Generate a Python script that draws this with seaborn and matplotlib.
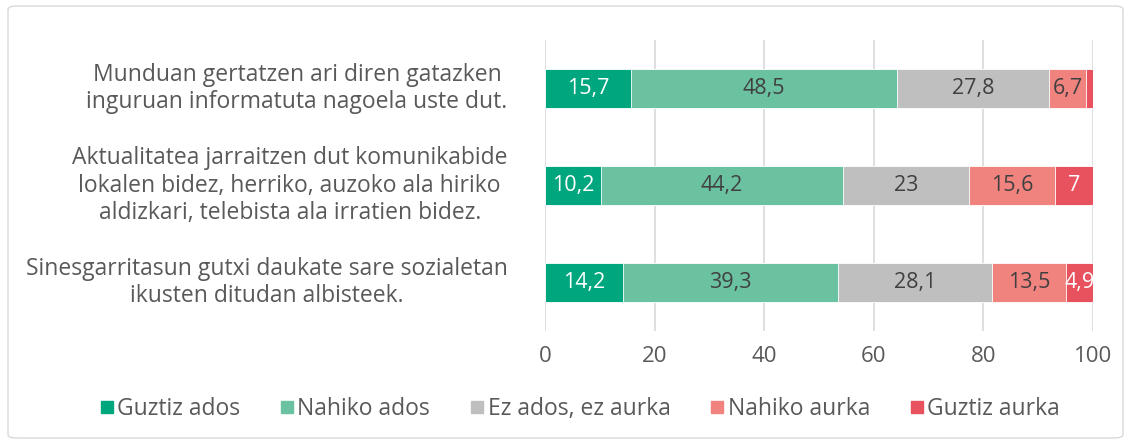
import numpy as np
import pandas as pd
import seaborn as sns
import matplotlib
matplotlib.use("Agg")
import matplotlib.pyplot as plt
from matplotlib.patches import FancyBboxPatch
from matplotlib.lines import Line2D

categories = [
    "Munduan gertatzen ari diren gatazken\ninguruan informatuta nagoela uste dut.",
    "Aktualitatea jarraitzen dut komunikabide\nlokalen bidez, herriko, auzoko ala hiriko\naldizkari, telebista ala irratien bidez.",
    "Sinesgarritasun gutxi daukate sare sozialetan\nikusten ditudan albisteek.",
]
series_names = ["Guztiz ados", "Nahiko ados", "Ez ados, ez aurka", "Nahiko aurka", "Guztiz aurka"]
guztiz_ados = [15.7, 10.2, 14.2]
nahiko_ados = [48.5, 44.2, 39.3]
ez_ados_ez_aurka = [27.8, 23.0, 28.1]
nahiko_aurka = [6.7, 15.6, 13.5]
guztiz_aurka = [1.3, 7.0, 4.9]
show_label = [[True, True, True], [True, True, True], [True, True, True], [True, True, True], [False, True, True]]
xticks = [0, 20, 40, 60, 80, 100]

colors = ["#00A67E", "#6BC2A1", "#BFBFBF", "#F1837F", "#E8525F"]
label_colors = ["white", "#404040", "#404040", "#404040", "white"]

sns.set_theme(style="white")
plt.rcParams["font.family"] = ["Open Sans", "DejaVu Sans"]

fig = plt.figure(figsize=(11.31, 4.46), dpi=100)
ax = fig.add_axes([545/1131, 1-331/446, (1093-545)/1131, (331-40)/446])

vals = [guztiz_ados, nahiko_ados, ez_ados_ez_aurka, nahiko_aurka, guztiz_aurka]
arr = np.array(vals)
cum = np.cumsum(arr, axis=0)

# draw cumulative bars from largest to smallest
for i in range(len(series_names) - 1, -1, -1):
    df = pd.DataFrame({"cat": categories, "val": cum[i]})
    sns.barplot(data=df, x="val", y="cat", orient="h", color=colors[i],
                width=0.4, ax=ax, linewidth=0.6, edgecolor="white", saturation=1, zorder=3)

# segment labels
for i in range(len(series_names)):
    for j in range(len(categories)):
        if not show_label[i][j]:
            continue
        start = cum[i][j] - arr[i][j]
        center = start + arr[i][j] / 2
        txt = f"{arr[i][j]:g}".replace(".", ",")
        ax.text(center, j, txt, ha="center", va="center", fontsize=15.5,
                color=label_colors[i], zorder=5)

ax.set_xlim(0, 100)
ax.set_ylim(2.5, -0.5)
ax.set_xticks(xticks)
ax.set_xticklabels([str(t) for t in xticks], fontsize=16, color="#595959")
ax.set_yticks(range(len(categories)))
ax.set_yticklabels(categories, fontsize=16.5, color="#595959",
                   multialignment="center", linespacing=1.22)
for lbl in ax.get_yticklabels():
    lbl.set_va("center")
ax.tick_params(axis="y", length=0, pad=27)
ax.tick_params(axis="x", length=0, pad=11)
ax.set_xlabel("")
ax.set_ylabel("")
for s in ax.spines.values():
    s.set_visible(False)
ax.grid(axis="x", color="#D9D9D9", linewidth=1.2, zorder=0)
ax.set_axisbelow(True)

handles = [Line2D([0], [0], marker="s", linestyle="none", markersize=9,
                  markerfacecolor=c, markeredgecolor=c) for c in colors]
leg = fig.legend(handles, series_names, loc="center", bbox_to_anchor=(580/1131, 1-409/446),
                 ncol=5, frameon=False, fontsize=16.5, handletextpad=0.15, columnspacing=1.75,
                 handlelength=0.6)
for t in leg.get_texts():
    t.set_color("#595959")

border = FancyBboxPatch((8/1131, 8/446), 1115/1131, 432/446,
                        boxstyle="round,pad=0,rounding_size=0.008",
                        transform=fig.transFigure, fill=False,
                        edgecolor="#D9D9D9", linewidth=1)
fig.patches.append(border)

fig.savefig("out.png", dpi=100)
